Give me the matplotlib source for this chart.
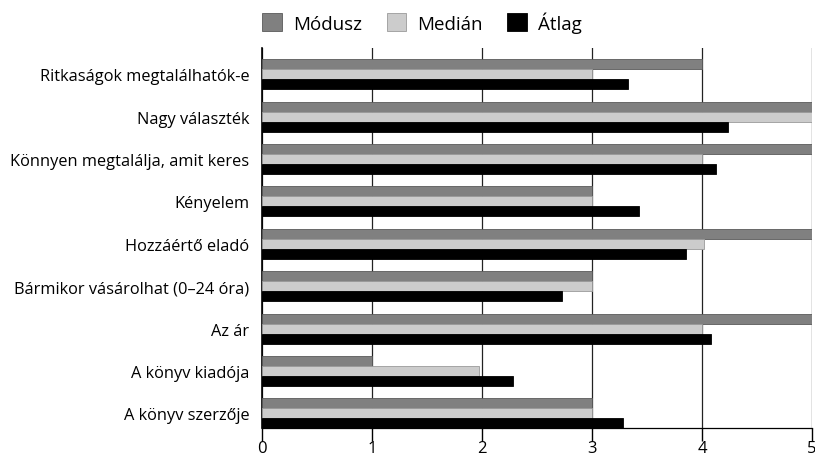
import matplotlib
matplotlib.use("Agg")
import matplotlib.pyplot as plt
import numpy as np

plt.rcParams['font.family'] = ['Open Sans', 'DejaVu Sans']

# categories top -> bottom
categories = [
    'Ritkaságok megtalálhatók-e',
    'Nagy választék',
    'Könnyen megtalálja, amit keres',
    'Kényelem',
    'Hozzáértő eladó',
    'Bármikor vásárolhat (0–24 óra)',
    'Az ár',
    'A könyv kiadója',
    'A könyv szerzője',
]
modusz = [4, 5, 5, 3, 5, 3, 5, 1, 3]
median = [3, 5, 4, 3, 4.02, 3, 4, 1.97, 3]
atlag = [3.33, 4.24, 4.13, 3.43, 3.85, 2.73, 4.08, 2.28, 3.28]
xticks = [0, 1, 2, 3, 4, 5]

fig = plt.figure(figsize=(8.15, 4.6), dpi=100)
ax = fig.add_axes([262 / 815, 31 / 460, 550 / 815, 380 / 460])

n = len(categories)
y = np.arange(n)[::-1]
h = 0.236

ax.barh(y + h, modusz, height=h, color='#808080', edgecolor='#5a5a5a', linewidth=0.6, label='Módusz', zorder=3)
ax.barh(y, median, height=h, color='#cccccc', edgecolor='#9a9a9a', linewidth=0.6, label='Medián', zorder=3)
ax.barh(y - h, atlag, height=h, color='#000000', edgecolor='#000000', linewidth=0.6, label='Átlag', zorder=3)

ax.set_xlim(0, 5)
ax.set_ylim(-0.345, n - 1 + 0.62)
ax.set_xticks(xticks)
ax.set_xticklabels([str(t) for t in xticks], fontsize=12)
ax.set_yticks(y)
ax.set_yticklabels(categories, fontsize=11.8)
ax.tick_params(axis='y', length=0, pad=9)
ax.tick_params(axis='x', length=9, width=1, color='black', pad=0)

ax.grid(True, axis='x', color='#222222', linewidth=0.9, zorder=0)
ax.spines['top'].set_visible(False)
ax.spines['right'].set_visible(False)
ax.spines['left'].set_color('black')
ax.spines['bottom'].set_color('black')
ax.spines['left'].set_linewidth(1.2)
ax.spines['bottom'].set_linewidth(0.9)

fig.legend(loc='upper center', bbox_to_anchor=(0.518, 1.01), ncol=3, frameon=False,
           fontsize=13.5, handlelength=1.05, handleheight=1.1, handletextpad=0.6,
           columnspacing=1.3)

plt.savefig('out.png', dpi=100)
plt.close()
